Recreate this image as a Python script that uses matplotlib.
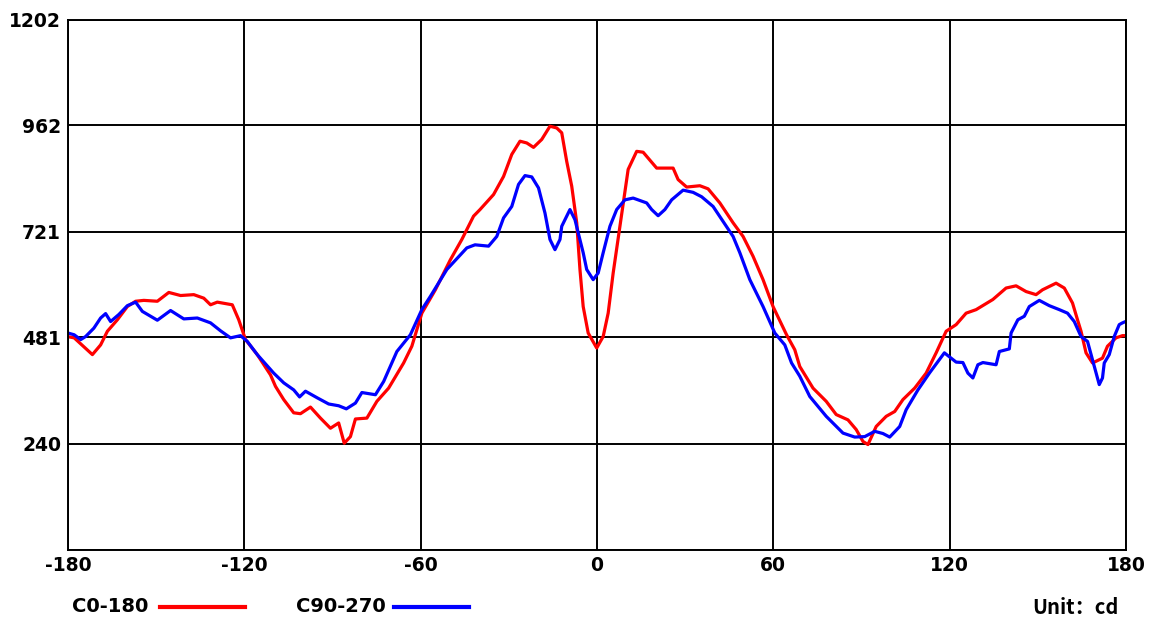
import matplotlib
matplotlib.use("Agg")
import matplotlib.pyplot as plt
from matplotlib.lines import Line2D

plt.rcParams['font.family'] = ['DejaVu Sans', 'Noto Sans CJK SC']
plt.rcParams['axes.unicode_minus'] = False

# C0-180 (red)
c0_angle = [-179.5, -177.9, -171.7, -168.9, -166.6, -163.2, -159.8, -157.0, -154.2, -149.6,
            -145.7, -141.7, -137.2, -133.8, -131.5, -129.2, -124.1, -121.9, -119.6, -115.6,
            -111.1, -109.4, -106.6, -103.2, -100.9, -97.5, -94.1, -90.7, -87.9, -86.0,
            -83.9, -82.2, -78.3, -74.9, -70.9, -65.8, -63.0, -59.6, -55.0, -49.9,
            -46.0, -42.0, -39.8, -35.2, -31.8, -29.0, -26.2, -23.9, -21.6, -18.8,
            -16.0, -13.7, -12.0, -10.3, -8.6, -6.9, -5.8, -4.7, -3.0, -0.1,
            2.1, 3.8, 5.5, 7.8, 10.6, 13.5, 15.7, 20.3, 25.9, 27.6,
            30.5, 35.0, 37.8, 41.8, 46.3, 49.7, 53.1, 56.5, 59.9, 64.5,
            67.3, 69.0, 73.5, 78.0, 81.4, 85.4, 88.2, 90.5, 92.2, 95.0,
            98.4, 101.3, 104.1, 108.1, 112.0, 115.4, 118.8, 122.2, 125.6, 129.0,
            134.7, 139.2, 142.6, 146.0, 149.4, 151.6, 156.2, 159.0, 161.8, 163.5,
            164.7, 166.4, 168.6, 172.0, 173.7, 176.6, 178.8, 180.0]
c0_value = [482, 480, 442, 464, 495, 521, 551, 563, 565, 563,
            583, 576, 578, 570, 555, 561, 555, 521, 476, 442,
            396, 370, 340, 310, 308, 323, 298, 275, 287, 241,
            256, 296, 298, 336, 366, 423, 461, 536, 589, 657,
            703, 756, 771, 805, 846, 896, 926, 922, 912, 930,
            960, 956, 945, 880, 824, 741, 635, 551, 491, 457,
            483, 536, 627, 733, 862, 903, 901, 865, 865, 839,
            822, 825, 818, 786, 741, 710, 665, 612, 551, 487,
            453, 415, 366, 336, 306, 294, 272, 245, 238, 279,
            302, 313, 340, 366, 400, 446, 495, 510, 536, 544,
            567, 593, 598, 585, 578, 589, 604, 593, 559, 521,
            495, 446, 423, 434, 461, 480, 485, 485]

# C90-270 (blue)
c90_angle = [-179.5, -177.9, -175.7, -174.0, -171.2, -168.9, -167.2, -165.5, -162.7, -159.8,
             -157.0, -154.7, -149.6, -145.1, -140.6, -136.0, -131.5, -128.1, -124.7, -121.3,
             -119.0, -115.6, -110.0, -106.6, -103.2, -101.2, -99.2, -95.2, -91.3, -87.9,
             -85.3, -82.2, -80.0, -75.4, -72.6, -68.1, -63.5, -59.6, -56.7, -51.1,
             -44.3, -41.5, -36.9, -34.1, -31.8, -29.0, -26.7, -24.5, -22.2, -19.9,
             -17.7, -16.0, -14.3, -12.6, -12.0, -10.9, -9.2, -7.5, -5.8, -4.7,
             -3.5, -1.3, 0.4, 2.1, 4.4, 6.7, 9.5, 12.3, 16.9, 18.6,
             20.8, 23.1, 25.4, 29.3, 32.7, 35.6, 39.5, 42.9, 46.3, 48.6,
             52.0, 56.5, 60.5, 63.9, 66.2, 69.0, 72.4, 78.0, 83.7, 87.7,
             91.1, 94.5, 97.3, 99.6, 103.0, 105.2, 109.2, 113.1, 118.2, 120.5,
             122.2, 124.5, 126.2, 127.9, 129.6, 131.3, 135.8, 136.9, 140.3, 140.9,
             143.2, 145.4, 147.1, 150.5, 153.9, 157.3, 160.1, 162.4, 164.7, 166.9,
             168.6, 169.8, 170.9, 172.0, 172.6, 174.3, 176.0, 177.7, 178.8, 179.5]
c90_value = [490, 487, 476, 483, 502, 525, 535, 517, 533, 553,
             561, 540, 520, 542, 523, 525, 514, 496, 480, 485,
             472, 442, 400, 378, 362, 346, 359, 344, 330, 326,
             319, 332, 356, 351, 381, 449, 487, 544, 574, 635,
             684, 691, 688, 710, 752, 778, 828, 848, 845, 820,
             763, 703, 680, 703, 733, 748, 771, 748, 703, 673,
             635, 612, 627, 673, 733, 771, 793, 797, 786, 771,
             757, 771, 793, 815, 810, 800, 778, 744, 710, 673,
             612, 551, 491, 464, 423, 393, 347, 302, 264, 255,
             256, 268, 263, 255, 279, 317, 362, 400, 446, 434,
             425, 424, 400, 389, 419, 424, 419, 449, 455, 491,
             521, 529, 551, 565, 553, 544, 536, 517, 483, 472,
             430, 400, 374, 389, 423, 442, 483, 510, 514, 516]

x_ticks = [-180, -120, -60, 0, 60, 120, 180]
y_ticks = [0, 240, 481, 721, 962, 1202]
y_labels = ["", "240", "481", "721", "962", "1202"]

fig = plt.figure(figsize=(11.57, 6.19), dpi=100)
ax = fig.add_axes([68 / 1157, 1 - 549.5 / 619, (1126 - 68) / 1157, (549.5 - 19.5) / 619])

ax.plot(c0_angle, c0_value, color="#ff0000", lw=2.3, solid_joinstyle="round")
ax.plot(c90_angle, c90_value, color="#0000ff", lw=2.3, solid_joinstyle="round")

ax.set_xlim(-180, 180)
ax.set_ylim(0, 1202)
ax.set_xticks(x_ticks)
ax.set_yticks(y_ticks)
ax.set_yticklabels(y_labels)
ax.grid(True, color="black", lw=1.4)
ax.set_axisbelow(True)
ax.tick_params(length=0, labelsize=13.5, pad=5)
for lab in ax.get_xticklabels() + ax.get_yticklabels():
    lab.set_fontweight("bold")
for s in ax.spines.values():
    s.set_color("black")
    s.set_linewidth(1.4)

ty = 1 - 607 / 619
fig.text(72 / 1157, ty, "C0-180", fontsize=14, fontweight="bold", va="center", ha="left")
fig.add_artist(Line2D([160 / 1157, 245 / 1157], [ty, ty], color="#ff0000", lw=3))
fig.text(296 / 1157, ty, "C90-270", fontsize=14, fontweight="bold", va="center", ha="left")
fig.add_artist(Line2D([394 / 1157, 469 / 1157], [ty, ty], color="#0000ff", lw=3))
fig.text(1119 / 1157, ty, "Unit：cd", fontsize=14.5, fontweight="bold",
         family=["Noto Sans CJK SC"], va="center", ha="right")

fig.savefig("out.png", dpi=100)
